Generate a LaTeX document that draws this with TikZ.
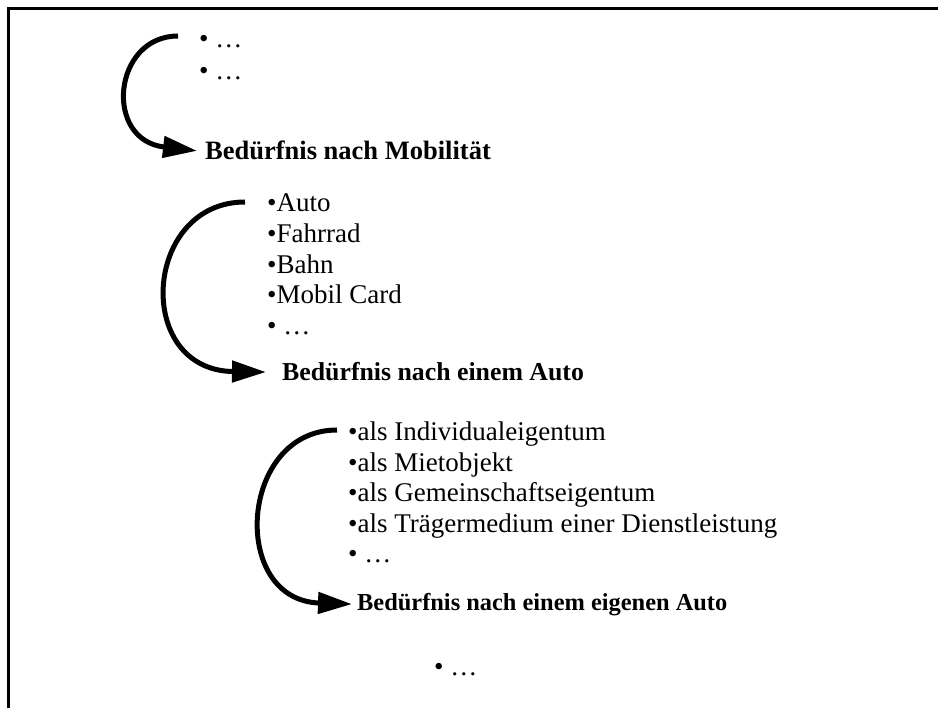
\documentclass[tikz,border=0pt]{standalone}
\usepackage{fontspec}
\setmainfont{Liberation Serif}
\usetikzlibrary{arrows.meta}
\begin{document}
\begin{tikzpicture}[x=1pt,y=-1pt,
  item/.style={anchor=base west, inner sep=0pt, font=\fontsize{27}{31}\selectfont},
  need/.style={anchor=base west, inner sep=0pt, font=\fontsize{#1}{30}\selectfont\bfseries},
  flow/.style={line width=5pt, -{Triangle[length=34pt,width=21pt]}},
  frameline/.style={line width=2.7pt}]
\useasboundingbox (0,0) rectangle (938,708);
% open frame: left and top edges only
\draw[frameline] (8.5,708) -- (8.5,8.5) -- (938,8.5);

% first level
\node[item] (m1) at (199,48) {• …};
\node[item] (m2) at (199,80) {• …};
\node[need=26.5] (b1) at (205,160) {Bedürfnis nach Mobilität};

% second level
\node[item] (c1) at (267,212) {•Auto};
\node[item] (c2) at (267,242.6) {•Fahrrad};
\node[item] (c3) at (267,273.2) {•Bahn};
\node[item] (c4) at (267,303.8) {•Mobil Card};
\node[item] (c5) at (267,334.4) {• …};
\node[need=25.8] (b2) at (282,381) {Bedürfnis nach einem Auto};

% third level
\node[item] (e1) at (348,441) {•als Individualeigentum};
\node[item] (e2) at (348,471.5) {•als Mietobjekt};
\node[item] (e3) at (348,502) {•als Gemeinschaftseigentum};
\node[item] (e4) at (348,532.5) {•als Trägermedium einer Dienstleistung};
\node[item] (e5) at (348,563) {• …};
\node[need=24.4] (b3) at (357,610) {Bedürfnis nach einem eigenen Auto};

\node[item] (m4) at (434,675) {• …};

% curved arrows leading from each list to its need
\coordinate (s1) at (178,36);
\coordinate (t1) at ([xshift=-8pt]b1.west);
\draw[flow] (s1) .. controls (113,36) and (103,140) .. (t1);

\coordinate (s2) at (245,202);
\coordinate (t2) at ([xshift=-16pt]b2.west);
\draw[flow] (s2) .. controls (143,202) and (133,370) .. (t2);

\coordinate (s3) at (337,430);
\coordinate (t3) at ([xshift=-5pt]b3.west);
\draw[flow] (s3) .. controls (239,430) and (229,600) .. (t3);
\end{tikzpicture}
\end{document}
